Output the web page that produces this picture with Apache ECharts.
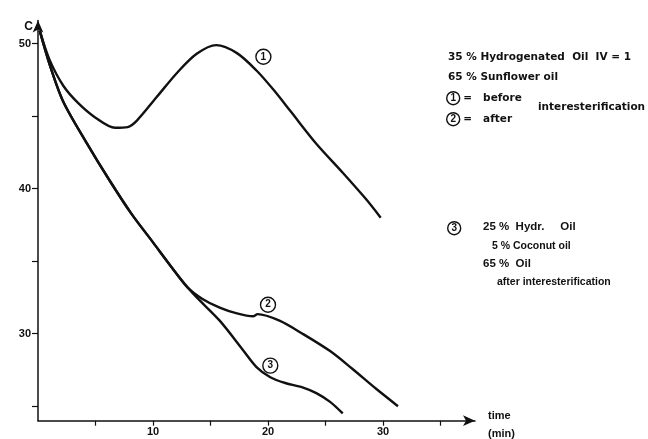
<!DOCTYPE html>
<html>
<head>
<meta charset="utf-8">
<script src="https://cdn.jsdelivr.net/npm/echarts@6/dist/echarts.min.js"></script>
<style>
  html, body { margin: 0; padding: 0; background: #fff; }
  #chart { width: 648px; height: 439px; }
</style>
</head>
<body>
<div id="chart"></div>
<script>
// cooling curves, temperature (C) vs time (min)
const curve1 = [
  [0.15, 50.9], [1.0, 48.9], [2.2, 47.1], [3.5, 45.9], [5.0, 44.9], [6.7, 44.2],
  [7.8, 44.25], [8.6, 44.7], [10.3, 46.3], [12.1, 48.0], [13.8, 49.3], [15.5, 49.9],
  [17.3, 49.35], [19.0, 48.15], [20.5, 46.8], [22.0, 45.3], [24.2, 43.1], [26.5, 41.1],
  [28.5, 39.3], [29.8, 38.0]
];
const curve2 = [
  [0.15, 50.9], [1.0, 48.6], [2.2, 46.0], [4.2, 43.2], [6.2, 40.6], [8.1, 38.3],
  [10.0, 36.3], [11.7, 34.5], [13.0, 33.2], [14.3, 32.4], [15.8, 31.8], [17.3, 31.4],
  [18.7, 31.2], [19.1, 31.35], [21.0, 30.9], [23.0, 30.0], [25.4, 28.8], [27.3, 27.6],
  [29.4, 26.2], [31.3, 25.0]
];
const curve3 = [
  [0.15, 50.9], [1.0, 48.6], [2.2, 46.0], [4.2, 43.2], [6.2, 40.6], [8.1, 38.3],
  [10.0, 36.3], [11.7, 34.5], [13.0, 33.2], [13.8, 32.5], [15.8, 30.9], [17.8, 28.9],
  [19.0, 27.7], [20.2, 27.0], [21.5, 26.6], [23.0, 26.3], [24.2, 25.9], [25.4, 25.3],
  [26.5, 24.5]
];
const curveTags = [
  { name: '1', coord: [19.6, 49.1] },
  { name: '2', coord: [20.0, 32.0] },
  { name: '3', coord: [20.2, 27.8] }
];
const xTicks = [5, 10, 15, 20, 25, 30, 35];
const xLabels = [10, 20, 30];
const yTicks = [25, 30, 35, 40, 45, 50];
const yLabels = [30, 40, 50];

const ink = '#111';
const font = '"Liberation Sans", Arial, sans-serif';
const wide = '"DejaVu Sans", sans-serif';

const chart = echarts.init(document.getElementById('chart'), null, { renderer: 'canvas' });

const circ = {
  width: 13, height: 13, lineHeight: 13, borderRadius: 8,
  borderColor: ink, borderWidth: 1.4, align: 'center',
  fontSize: 10, fontWeight: 'bold', color: ink, fontFamily: font
};
const txt = (left, top, text, size, fam) => ({
  type: 'text', left, top,
  style: {
    text, fill: ink, font: 'bold ' + size + 'px ' + fam,
    rich: { c: circ }
  }
});

const lineSeries = (data) => ({
  type: 'line',
  data,
  smooth: 0.3,
  showSymbol: false,
  lineStyle: { color: ink, width: 2.4 },
  silent: true
});

const s1 = lineSeries(curve1);
s1.markPoint = {
  symbol: 'circle', symbolSize: 15,
  itemStyle: { color: '#fff', borderColor: ink, borderWidth: 1.4 },
  label: { show: true, formatter: p => p.name, color: ink, fontSize: 10, fontWeight: 'bold', fontFamily: font },
  data: curveTags
};

chart.setOption({
  backgroundColor: '#fff',
  animation: false,
  grid: { left: 38, right: 173, top: 20.5, bottom: 18.3, outerBoundsMode: 'none' },
  xAxis: {
    type: 'value', min: 0, max: 38,
    splitLine: { show: false },
    axisLine: { lineStyle: { color: ink, width: 1.5 }, symbol: ['none', 'arrow'], symbolSize: [8, 12] },
    axisTick: { customValues: xTicks, length: 5, lineStyle: { color: ink, width: 1.2 } },
    axisLabel: { customValues: xLabels, color: ink, fontSize: 11, fontWeight: 'bold', fontFamily: font, margin: 6 },
    name: 'time\n(min)', nameLocation: 'end', nameGap: 13,
    nameTextStyle: { color: ink, fontSize: 11, fontWeight: 'bold', fontFamily: font, align: 'left', verticalAlign: 'top', padding: [-14, 0, 0, 0], lineHeight: 18 }
  },
  yAxis: {
    type: 'value', min: 24, max: 51.6,
    splitLine: { show: false },
    axisLine: { lineStyle: { color: ink, width: 1.5 }, symbol: ['none', 'arrow'], symbolSize: [8, 12] },
    axisTick: { customValues: yTicks, length: 6, lineStyle: { color: ink, width: 1.2 } },
    axisLabel: { customValues: yLabels, color: ink, fontSize: 11, fontWeight: 'bold', fontFamily: font, margin: 7 },
    name: 'C', nameLocation: 'end', nameGap: -12,
    nameTextStyle: { color: ink, fontSize: 12, fontWeight: 'bold', fontFamily: font, align: 'right', padding: [0, 5, 0, 0] }
  },
  series: [s1, lineSeries(curve2), lineSeries(curve3)],
  graphic: [
    txt(448, 52, '35 % Hydrogenated  Oil  IV = 1', 10.5, wide),
    txt(448, 72, '65 % Sunflower oil', 10.5, wide),
    txt(446, 91, '{c|1} =   before', 10.5, wide),
    txt(446, 112, '{c|2} =   after', 10.5, wide),
    txt(538, 102, 'interesterification', 10.5, wide),
    txt(447, 221, '{c|3}', 10.5, wide),
    txt(483, 221, '25 %  Hydr.     Oil', 11.5, font),
    txt(492, 241, '5 % Coconut oil', 10.5, font),
    txt(483, 258, '65 %  Oil', 11.5, font),
    txt(497, 277, 'after interesterification', 10.5, font)
  ]
});
</script>
</body>
</html>
